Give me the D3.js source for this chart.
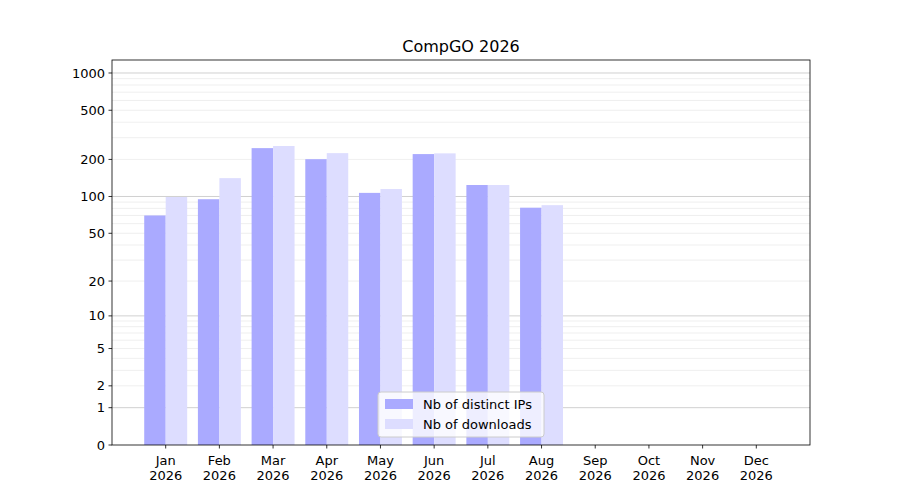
<!DOCTYPE html>
<html><head><meta charset="utf-8">
<script src="https://cdn.jsdelivr.net/npm/d3@7"></script>
<style>body{margin:0;background:#fff}text{font-family:"DejaVu Sans",sans-serif}</style>
</head><body><svg id="c" width="900" height="500"></svg>
<script>
const months=["Jan","Feb","Mar","Apr","May","Jun","Jul","Aug","Sep","Oct","Nov","Dec"];
const yearLabel="2026";
const ips=[70,95,247,201,107,221,124,81,null,null,null,null];
const downloads=[99,141,257,225,115,224,124,85,null,null,null,null];
const yTicks=[0,1,2,5,10,20,50,100,200,500,1000];
const majorGrid=[1,10,100,1000];
const minorGrid=[2,3,4,5,6,7,8,9,20,30,40,50,60,70,80,90,200,300,400,500,600,700,800,900];

const svg=d3.select("#c");
const L=112,R=810,T=60,B=445;
const x=d3.scaleLinear().domain([-1,12]).range([L,R]);
const y=d3.scaleSymlog().constant(1).domain([0,1273]).range([B,T]);
const g=svg.append("g");
g.selectAll(".mg").data(minorGrid).join("line").attr("x1",L).attr("x2",R)
 .attr("y1",d=>y(d)).attr("y2",d=>y(d)).attr("stroke","#ebebeb").attr("stroke-width",0.8);
g.selectAll(".Mg").data(majorGrid).join("line").attr("x1",L).attr("x2",R)
 .attr("y1",d=>y(d)).attr("y2",d=>y(d)).attr("stroke","#c4c4c4").attr("stroke-width",0.8);
const bw=x(0.4)-x(0);
g.selectAll(".ip").data(months.map((m,i)=>({i,v:ips[i]})).filter(d=>d.v!=null)).join("rect")
 .attr("x",d=>x(d.i-0.4)).attr("width",bw).attr("y",d=>y(d.v)).attr("height",d=>B-y(d.v)).attr("fill","#aaaaff");
g.selectAll(".dl").data(months.map((m,i)=>({i,v:downloads[i]})).filter(d=>d.v!=null)).join("rect")
 .attr("x",d=>x(d.i)).attr("width",bw).attr("y",d=>y(d.v)).attr("height",d=>B-y(d.v)).attr("fill","#ddddff");
svg.append("rect").attr("x",L).attr("y",T).attr("width",R-L).attr("height",B-T).attr("fill","none").attr("stroke","#000").attr("stroke-width",0.8);
// y axis
yTicks.forEach(t=>{
 svg.append("line").attr("x1",L-3.5).attr("x2",L).attr("y1",y(t)).attr("y2",y(t)).attr("stroke","#000").attr("stroke-width",0.8);
 svg.append("text").attr("x",L-7).attr("y",y(t)).attr("dy","0.35em").attr("text-anchor","end").attr("font-size",13).text(t);
});
months.forEach((m,i)=>{
 svg.append("line").attr("x1",x(i)).attr("x2",x(i)).attr("y1",B).attr("y2",B+3.5).attr("stroke","#000").attr("stroke-width",0.8);
 svg.append("text").attr("x",x(i)).attr("y",B+20).attr("text-anchor","middle").attr("font-size",13).text(m);
 svg.append("text").attr("x",x(i)).attr("y",B+35).attr("text-anchor","middle").attr("font-size",13).text(yearLabel);
});
svg.append("text").attr("x",(L+R)/2).attr("y",52).attr("text-anchor","middle").attr("font-size",16).text("CompGO 2026");
// legend
const lg=svg.append("g").attr("transform","translate(378,392)");
lg.append("rect").attr("width",166).attr("height",45).attr("rx",3).attr("fill","#fff").attr("fill-opacity",0.8).attr("stroke","#ccc");
[["Nb of distinct IPs","#aaaaff"],["Nb of downloads","#ddddff"]].forEach((d,k)=>{
 lg.append("rect").attr("x",7).attr("y",7+k*20).attr("width",28).attr("height",10).attr("fill",d[1]);
 lg.append("text").attr("x",45).attr("y",12+k*20).attr("dy","0.35em").attr("font-size",13).text(d[0]);
});
</script></body></html>
